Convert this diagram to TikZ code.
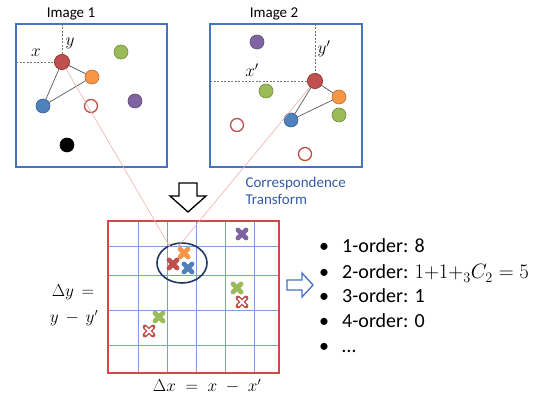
\documentclass[tikz,border=0pt]{standalone}
\usepackage{fontspec}
\setmainfont{Carlito}
\usetikzlibrary{shapes.geometric}

\definecolor{boxblue}{RGB}{68,114,196}
\definecolor{ptred}{RGB}{192,80,77}
\definecolor{ptorange}{RGB}{247,150,70}
\definecolor{ptgreen}{RGB}{155,187,89}
\definecolor{ptblue}{RGB}{79,129,189}
\definecolor{ptpurple}{RGB}{128,100,162}
\definecolor{gridred}{RGB}{214,72,72}
\definecolor{gridblue}{RGB}{120,160,215}
\definecolor{navy}{RGB}{31,56,100}
\definecolor{pink}{RGB}{240,175,175}
\definecolor{txtblue}{RGB}{52,92,165}

\tikzset{
  dot/.style={circle, draw=#1!75!black, fill=#1, line width=0.6pt,
    minimum size=14pt, inner sep=0pt},
  hollow/.style={circle, draw=ptred, fill=white, line width=1.3pt,
    minimum size=13pt, inner sep=0pt},
  edge/.style={draw=black!65, line width=0.7pt},
  axis/.style={draw=black!55, line width=0.6pt, dash pattern=on 2pt off 1.5pt},
  corr/.style={draw=pink, line width=0.6pt, ->, >=stealth},
  title/.style={font=\fontsize{15}{18}\selectfont, anchor=base},
  coord/.style={font=\fontsize{17}{19}\selectfont},
  listtext/.style={font=\fontsize{20}{24}\selectfont, anchor=base west, inner sep=0pt},
  mathlab/.style={font=\fontsize{16}{18}\selectfont}
}

\newcommand\fullcross[3]{%
  \draw[#3, line width=4.8pt, line cap=round]
    (#1-4,#2-4) -- (#1+4,#2+4) (#1-4,#2+4) -- (#1+4,#2-4);}
\newcommand\opencross[2]{%
  \draw[ptred, line width=4.8pt, line cap=round]
    (#1-4,#2-4) -- (#1+4,#2+4) (#1-4,#2+4) -- (#1+4,#2-4);
  \draw[white, line width=1.9pt, line cap=round]
    (#1-3.4,#2-3.4) -- (#1+3.4,#2+3.4) (#1-3.4,#2+3.4) -- (#1+3.4,#2-3.4);}

\begin{document}
\begin{tikzpicture}[x=1pt, y=-1pt]
  \useasboundingbox (0,0) rectangle (542,401);

  % Image 1
  \node[title] (t1) at (71,18) {Image 1};
  \draw[boxblue, line width=1.5pt] (16,24) rectangle (167,167);
  \coordinate (xa) at (16,62);
  \coordinate (ya) at (62,24);
  \node[dot=ptred, minimum size=15pt] (ra) at (62,62) {};
  \node[dot=ptorange] (oa) at (92,77) {};
  \node[dot=ptgreen] (ga) at (121,52) {};
  \node[dot=ptblue] (ba) at (43,106) {};
  \node[hollow] (ha) at (91,106) {};
  \node[dot=ptpurple] (pa) at (135,101) {};
  \node[dot=black] (ka) at (67,145) {};
  \draw[axis] (xa) -- (ra.center);
  \draw[axis] (ya) -- (ra.center);
  \node[dot=ptred, minimum size=15pt] at (ra) {};
  \draw[edge] (ra) -- (oa) (oa) -- (ba) (ba) -- (ra);
  \node[coord] (lxa) at (36,53) {$x$};
  \node[coord] (lya) at (70,43) {$y$};

  % Image 2
  \node[title] (t2) at (274,18) {Image 2};
  \draw[boxblue, line width=1.5pt] (210,24) rectangle (362,167);
  \coordinate (xb) at (210,81);
  \coordinate (yb) at (315,24);
  \node[dot=ptred, minimum size=15pt] (rb) at (315,81) {};
  \node[dot=ptorange] (ob) at (339,97) {};
  \node[dot=ptgreen] (gb) at (266,91) {};
  \node[dot=ptgreen] (gc) at (339,115) {};
  \node[dot=ptblue] (bb) at (291,120) {};
  \node[dot=ptpurple] (pb) at (257,42) {};
  \node[hollow] (hb) at (237,125) {};
  \node[hollow] (hc) at (305,154) {};
  \draw[axis] (xb) -- (rb.center);
  \draw[axis] (yb) -- (rb.center);
  \node[dot=ptred, minimum size=15pt] at (rb) {};
  \draw[edge] (rb) -- (ob) (ob) -- (bb) (bb) -- (rb);
  \node[coord] (lxb) at (252,70) {$x'$};
  \node[coord] (lyb) at (324,49) {$y'$};

  % Transform label and arrow
  \node[title, anchor=base west, text=txtblue] (c1) at (242,188) {Correspondence};
  \node[title, anchor=base west, text=txtblue] (c2) at (242,205) {Transform};
  \draw[line width=1.3pt, fill=white, line join=miter]
    (179,183) -- (197,183) -- (197,196) -- (206,196) -- (188,212)
    -- (170,196) -- (179,196) -- cycle;

  % Offset grid
  \foreach \gx in {138,167,196,225,254}
    \draw[gridblue, line width=0.7pt] (\gx,221) -- (\gx,373);
  \foreach \gy in {246,275,310,345}
    \draw[gridblue, line width=0.7pt] (108,\gy) -- (279,\gy);
  \draw[gridred, line width=1.6pt] (108,221) rectangle (279,373);

  \node[draw=navy, line width=1.6pt, ellipse, minimum width=50pt,
    minimum height=40pt, inner sep=0pt] (clus) at (182,263) {};

  \fullcross{184}{253}{ptorange}
  \fullcross{173}{264}{ptred}
  \fullcross{188}{268}{ptblue}
  \fullcross{242}{234}{ptpurple}
  \fullcross{237}{288}{ptgreen}
  \opencross{242}{302}
  \fullcross{159}{317}{ptgreen}
  \opencross{149}{331}

  \coordinate (ea) at (170,247);
  \coordinate (eb) at (178,247);
  \draw[corr] (ra) -- (ea);
  \draw[corr] (rb) -- (eb);

  \node[mathlab] (dy1) at (73,292) {$\Delta y\,=$};
  \node[mathlab] (dy2) at (74,318) {$y\,-\,y'$};
  \node[mathlab] (dx) at (207,386) {$\Delta x\;=\;x\;-\;x'$};

  % Result list
  \draw[boxblue, line width=1.3pt, fill=white, line join=miter]
    (287,280) -- (302,280) -- (302,273) -- (313,285) -- (302,297)
    -- (302,290) -- (287,290) -- cycle;
  \foreach \i/\by in {1/253,2/279,3/303,4/328,5/353}
    \node[listtext] (b\i) at (319,\by) {•};
  \node[listtext] (l1) at (342,253) {1-order: 8};
  \node[listtext] (l2) at (342,279) {2-order: $1{+}1{+}{}_3C_2 = 5$};
  \node[listtext] (l3) at (342,303) {3-order: 1};
  \node[listtext] (l4) at (342,328) {4-order: 0};
  \node[listtext] (l5) at (342,353) {…};
\end{tikzpicture}
\end{document}
